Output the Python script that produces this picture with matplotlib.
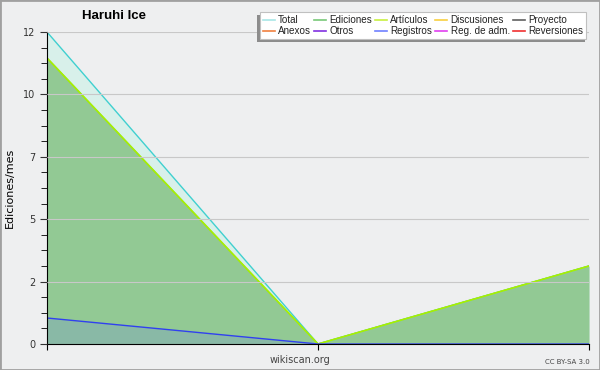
import matplotlib.pyplot as plt
import numpy as np
from matplotlib.lines import Line2D
from matplotlib.patches import Rectangle

# monthly edit counts (three months)
months = [0, 1, 2]
total = [12, 0, 3]
ediciones = [11, 0, 3]
articulos = [11, 0, 3]
registros = [1, 0, 0]

legend_names = ["Total", "Ediciones", "Artículos", "Discusiones", "Proyecto",
                "Anexos", "Otros", "Registros", "Reg. de adm.", "Reversiones"]
legend_colors = ["#a8e6e6", "#78c878", "#c8f040", "#f8d040", "#606060",
                 "#f08040", "#8030e0", "#7080ff", "#e040f0", "#f03030"]

bg = "#eeeff0"
fig = plt.figure(figsize=(6, 3.7), dpi=100, facecolor=bg)
ax = fig.add_axes([47 / 600, 26 / 370, 542 / 600, 312 / 370])
ax.set_facecolor(bg)

# fills
ax.fill_between(months, 0, total, color="#d8f0ea", lw=0)
ax.fill_between(months, 0, ediciones, color="#92c994", lw=0)
ax.fill_between(months, 0, registros, color="#7a9cc8", alpha=0.35, lw=0)

# lines
ax.plot(months, total, color="#40d0d0", lw=1)
ax.plot(months, ediciones, color="#78c878", lw=1)
ax.plot(months, articulos, color="#a8f000", lw=1.2)
ax.plot(months, registros, color="#3040f0", lw=1)

ax.set_xlim(0, 2)
ax.set_ylim(0, 12)

major = np.arange(0, 12.01, 2.4)
ax.set_yticks(major)
ax.set_yticklabels([str(int(round(v))) for v in major])
ax.set_yticks(np.arange(0, 12.01, 0.6), minor=True)
ax.set_xticks(months)
ax.set_xticklabels(["", "", ""])
ax.tick_params(axis="y", which="major", length=5, labelsize=7, colors="#333333")
ax.tick_params(axis="y", which="minor", length=4)
ax.tick_params(axis="x", length=4, direction="out")
ax.yaxis.grid(True, color="#c8c8c8", lw=0.8)
ax.set_axisbelow(False)
for sp in ["top", "right"]:
    ax.spines[sp].set_visible(False)

ax.set_ylabel("Ediciones/mes", fontsize=8)
ax.yaxis.set_label_coords(-32 / 542, 0.5)

fig.text(114 / 600, 1 - 16 / 370, "Haruhi Ice", fontsize=9.5, fontweight="bold",
         family="Liberation Sans", ha="center", va="center")
fig.text(300 / 600, 1 - 360 / 370, "wikiscan.org", fontsize=7, color="#444444",
         ha="center", va="center")
fig.text(590 / 600, 1 - 362 / 370, "CC BY-SA 3.0", fontsize=5, color="#444444",
         ha="right", va="center")

# legend (row-wise order for 5 columns x 2 rows)
handles = [Line2D([0], [0], color=c, lw=1.2) for c in legend_colors]
order = [0, 5, 1, 6, 2, 7, 3, 8, 4, 9]
leg = fig.legend([handles[i] for i in order], [legend_names[i] for i in order],
                 ncol=5, loc="upper right", bbox_to_anchor=(586 / 600, 1 - 12 / 370),
                 borderaxespad=0, prop={"family": "Liberation Sans", "size": 7.1},
                 frameon=True, fancybox=False, framealpha=1,
                 handlelength=1.2, handletextpad=0.35, columnspacing=0.3,
                 labelspacing=0.15, borderpad=0.3)
leg.get_frame().set_edgecolor("#c0c0c0")
leg.get_frame().set_linewidth(0.8)
leg.set_zorder(7)
for t in leg.get_texts():
    t.set_color("#222222")

# shadow offset to the left and below the legend box
fig.canvas.draw()
bb = leg.get_window_extent().transformed(fig.transFigure.inverted())
fig.patches.append(Rectangle((bb.x0 - 3 / 600, bb.y0 - 3 / 370), bb.width + 2 / 600,
                             bb.height, transform=fig.transFigure,
                             facecolor="#8c8c8c", edgecolor="none", zorder=5))

fig.patches.append(Rectangle((0, 0), 1, 1, transform=fig.transFigure, fill=False,
                             edgecolor="#a0a0a0", lw=2))

fig.savefig("out.png", dpi=100, facecolor=bg)
